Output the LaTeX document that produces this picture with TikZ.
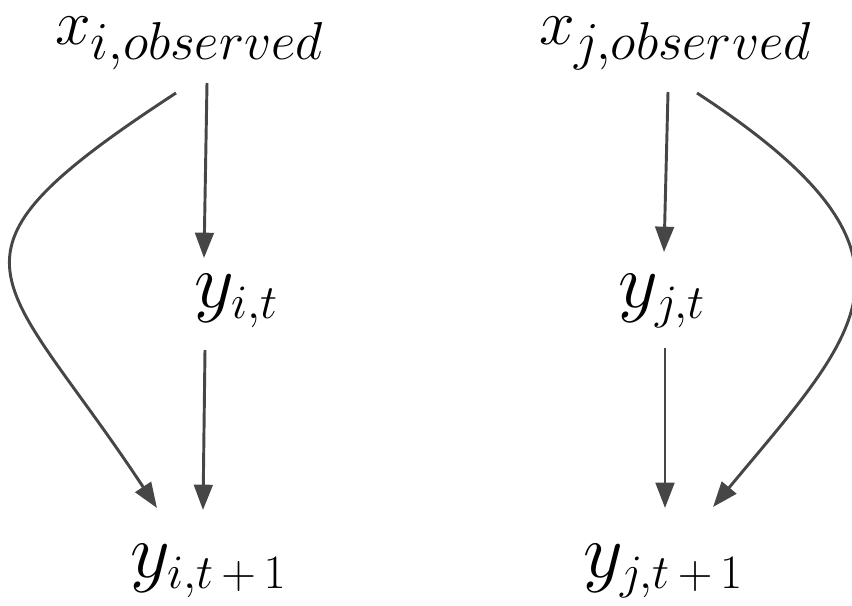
\documentclass[tikz,border=0pt]{standalone}
\usepackage{fix-cm}
\usetikzlibrary{calc,arrows.meta}
% big labels: subscripts kept large
\DeclareMathSizes{48}{48}{40}{30}
\DeclareMathSizes{58}{58}{36}{28}
\definecolor{arrowgray}{HTML}{464646}
\tikzset{
    observed/.style={anchor=base west,inner sep=0pt,
                     font=\fontsize{48}{56}\selectfont},
    state/.style={anchor=base west,inner sep=0pt,
                  font=\fontsize{58}{70}\selectfont},
    % the links are drawn on top of nothing, so a plain stroke will do
    link/.style={color=arrowgray,line width=2.2pt,
                 -{Triangle[length=19pt,width=14pt]}}
}

\begin{document}
\begin{tikzpicture}[x=0.75pt,y=-0.75pt]
  \useasboundingbox (0,0) rectangle (852,606);

  \node[observed] (xi) at (55,45) {$x_{i,observed}$};
  \node[observed] (xj) at (539,45) {$x_{j,observed}$};

  \node[state] (yit) at (194,307) {$y_{i,t}$};
  \node[state] (yjt) at (618,307) {$y_{j,t}$};

  \node[state] (yit1) at (130,577) {$y_{i,t\,+\,1}$};
  \node[state] (yjt1) at (583,577) {$y_{j,t\,+\,1}$};

  % chain i
  \draw[link] ($(xi.base west)+(152,38)$) -- ($(yit.base west)+(10,-49)$);
  \draw[link] ($(yit.base west)+(11,43)$) -- ($(yit1.base west)+(73,-67)$);
  \draw[link] ($(xi.base west)+(121,48)$)
    .. controls +(-256,167) and +(-157,-238) .. ($(yit1.base west)+(27,-69)$);

  % chain j
  \draw[link] ($(xj.base west)+(129,47)$) -- ($(yjt.base west)+(46,-55)$);
  \draw[link] ($(yjt.base west)+(47,41)$) -- ($(yjt1.base west)+(82,-69)$);
  \draw[link] ($(xj.base west)+(158,48)$)
    .. controls +(248,162) and +(147,-177) .. ($(yjt1.base west)+(130,-70)$);

\end{tikzpicture}
\end{document}
